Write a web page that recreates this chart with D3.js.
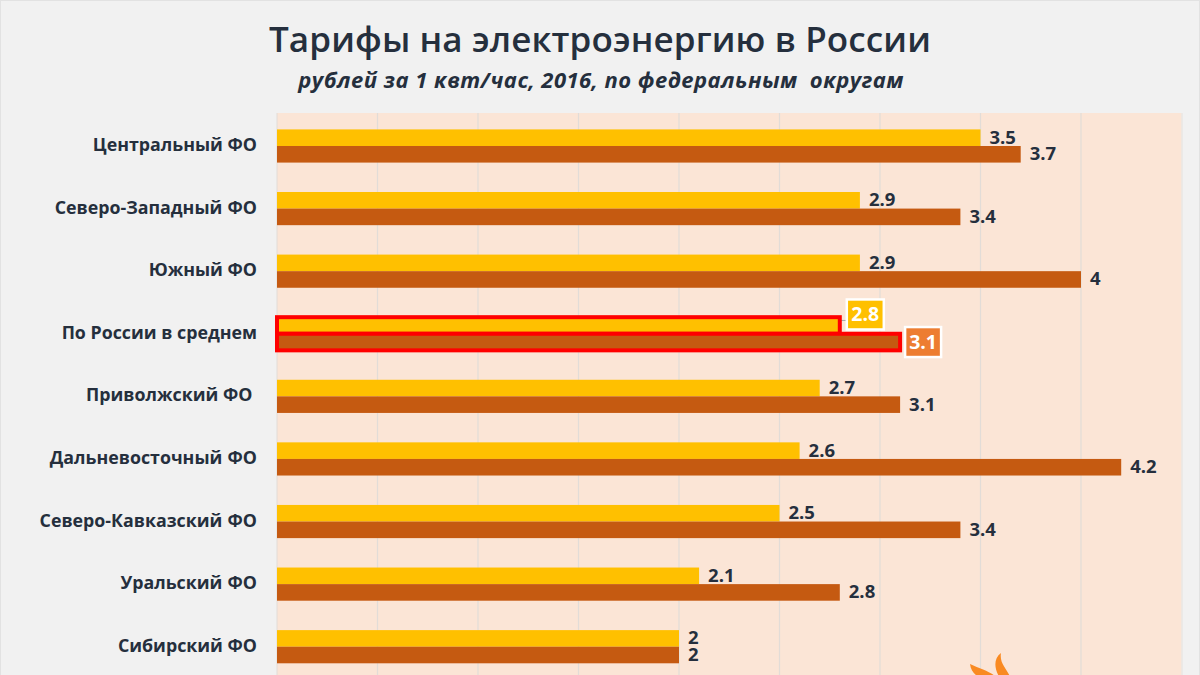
<!DOCTYPE html>
<html><head><meta charset="utf-8">
<script src="https://cdn.jsdelivr.net/npm/d3@7"></script>
<style>html,body{margin:0;padding:0;background:#f1f1f1;overflow:hidden}svg{display:block}text{font-family:"Open Sans",sans-serif;fill:#252f3d}</style>
</head><body><svg id="c" width="1200" height="675"></svg>
<script>
const categories=["Центральный ФО","Северо-Западный  ФО","Южный ФО","По России в среднем","Приволжский ФО ","Дальневосточный  ФО","Северо-Кавказский  ФО","Уральский  ФО","Сибирский ФО"];
const seriesA=[3.5,2.9,2.9,2.8,2.7,2.6,2.5,2.1,2];
const seriesB=[3.7,3.4,4,3.1,3.1,4.2,3.4,2.8,2];
const highlight="По России в среднем";
const gridTicks=[0.5,1,1.5,2,2.5,3,3.5,4];
const title="Тарифы на электроэнергию в России";
const subtitle="рублей за 1 квт/час, 2016, по федеральным  округам";

const svg=d3.select("#c");
const L=277,R=1181.5,T=113,B=675;
const x=d3.scaleLinear().domain([0,4.5]).range([L,R]);
const y=d3.scaleBand().domain(categories).range([114.7,678]).paddingInner(0.47).paddingOuter(0.235);
const h=y.bandwidth()/2;

svg.append("rect").attr("x",0.5).attr("y",0.5).attr("width",1199).attr("height",680).attr("fill","#f1f1f1").attr("stroke","#e2e2e2");
svg.append("rect").attr("x",L).attr("y",T).attr("width",R-L).attr("height",B-T).attr("fill","#fbe5d6");
svg.append("line").attr("x1",R+.5).attr("x2",R+.5).attr("y1",T).attr("y2",B).attr("stroke","#e6e2de");
svg.selectAll(".g").data(gridTicks).join("line").attr("x1",d=>x(d)).attr("x2",d=>x(d)).attr("y1",T).attr("y2",B).attr("stroke","#e2dcd7").attr("stroke-width",1.2);
svg.append("line").attr("x1",L).attr("x2",L).attr("y1",T).attr("y2",B).attr("stroke","#e2dcd7");

svg.append("text").attr("x",600).attr("y",52).attr("text-anchor","middle").attr("font-size",35).attr("font-weight",600).attr("letter-spacing",0.13).text(title);
svg.append("text").attr("x",601).attr("y",88).attr("text-anchor","middle").attr("font-size",22).attr("font-weight",700).attr("font-style","italic").attr("letter-spacing",0.45).style("white-space","pre").text(subtitle);

svg.selectAll(".cat").data(categories).join("text").attr("x",257).attr("y",d=>y(d)+h+5).attr("text-anchor","end").attr("font-size",17.8).attr("font-weight",700).attr("word-spacing",d=>d.includes("  ")?-2:0).style("white-space","pre").text(d=>d);

function bars(vals,color,off){
  const isH=(i)=>categories[i]===highlight;
  svg.selectAll(null).data(vals).join("rect")
    .attr("x",L).attr("y",(d,i)=>y(categories[i])+off*h)
    .attr("width",d=>x(d)-L).attr("height",h)
    .attr("fill",color).attr("stroke",(d,i)=>isH(i)?"#ff0000":"none").attr("stroke-width",4);
  svg.selectAll(null).data(vals.map((d,i)=>[d,i]).filter(p=>!isH(p[1]))).join("text")
    .attr("x",p=>x(p[0])+9).attr("y",p=>y(categories[p[1]])+off*h+h/2+6)
    .attr("font-size",18.5).attr("font-weight",700).text(p=>p[0]);
}
// leader from the 2.8 bar to its callout
const leadY=y(highlight)+h/2-5;
svg.append("path").attr("fill","none").attr("stroke","#a6a6a6").attr("d",`M${x(seriesA[3])},${leadY}H${x(seriesA[3])+8}`);
bars(seriesA,"#ffc000",0);
bars(seriesB,"#c55a11",1);

function callout(v,off,fill,w,dx,dy){
  const cy=y(highlight)+off*h+h/2+dy;
  const bx=x(v)+dx;
  svg.append("rect").attr("x",bx).attr("y",cy-15).attr("width",w).attr("height",30).attr("fill",fill).attr("stroke","#fff").attr("stroke-width",2.5);
  svg.append("text").attr("x",bx+w/2).attr("y",cy+7).attr("text-anchor","middle").attr("font-size",19.5).attr("font-weight",700).style("fill","#fff").text(v);
}
callout(seriesA[3],0,"#ffc000",37,7,-11);
callout(seriesB[3],1,"#ed7d31",36,5,0);

// flame logo, cropped by the bottom edge
svg.append("path").attr("fill","#f98a22").attr("d","M1001 653C993 659 994 669 1001 680L1011 680C1009 670 999 665 1001 653Z");
svg.append("path").attr("fill","#f98a22").attr("d","M970 664C971 674 980 678 984 680L998 680C994 672 982 670 970 664Z");
</script></body></html>
